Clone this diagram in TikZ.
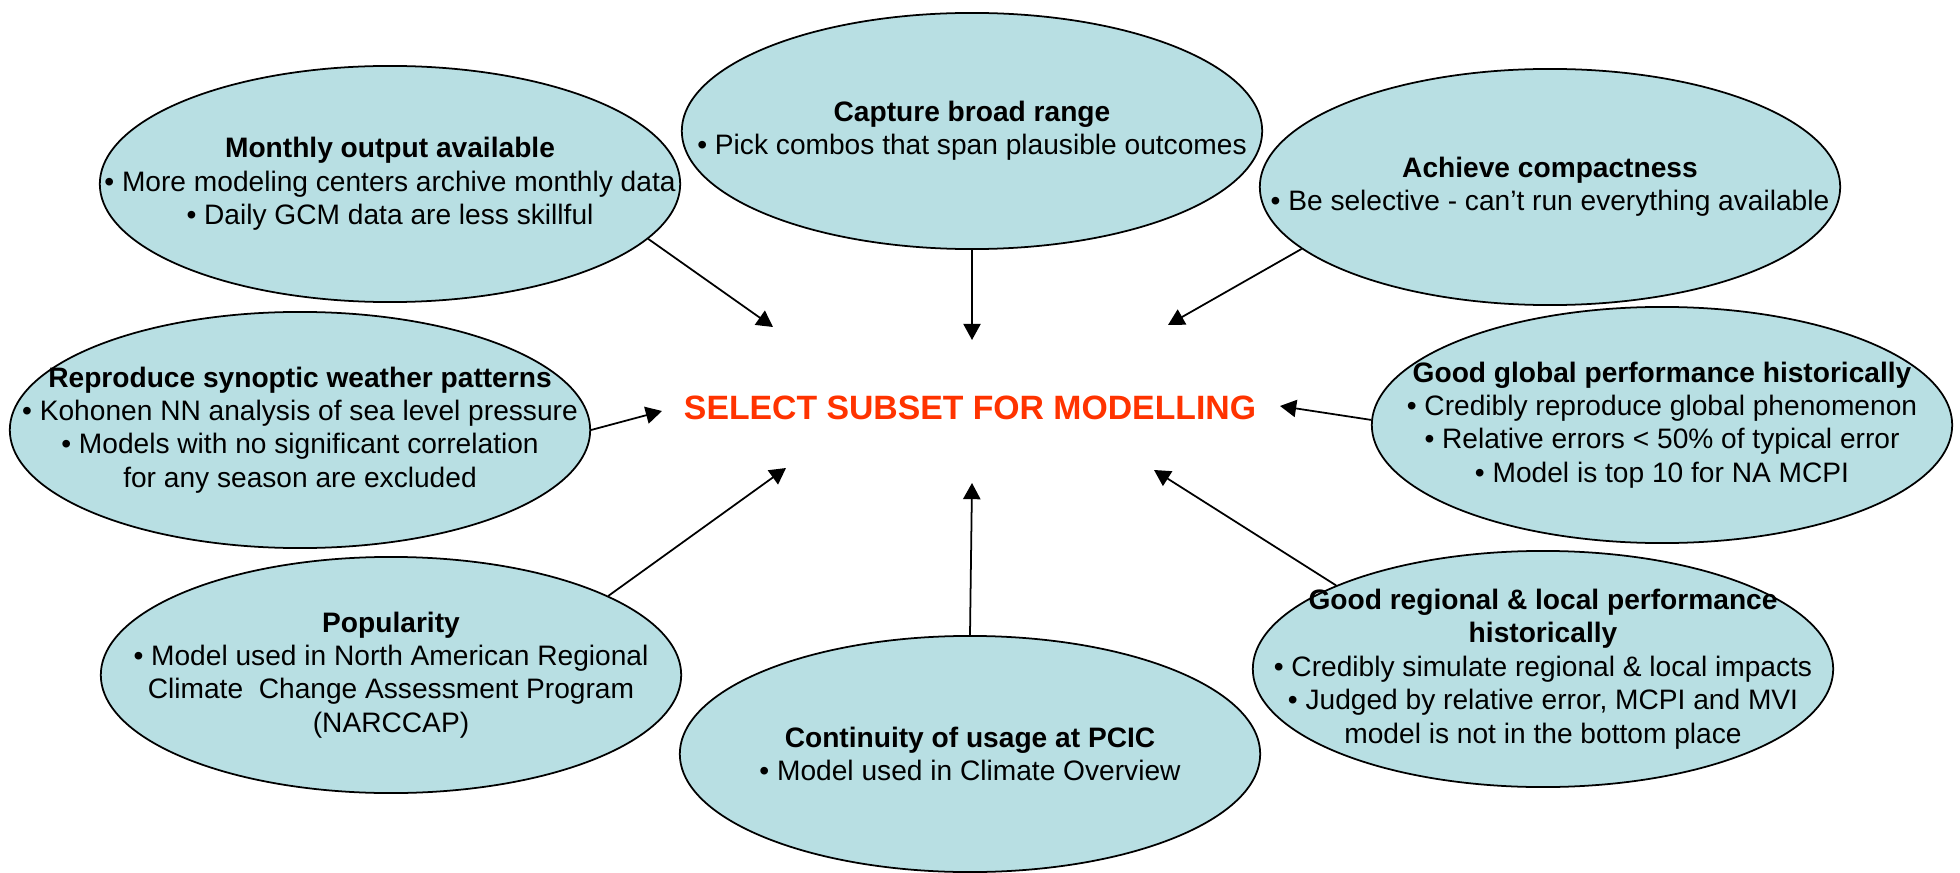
\documentclass[tikz,border=0pt]{standalone}
\usepackage{fontspec}
\setmainfont{Liberation Sans}
\usepackage{tikz}
\usetikzlibrary{arrows.meta}
\usetikzlibrary{shapes.geometric}

\definecolor{blobfill}{RGB}{184,223,227}
\definecolor{selectred}{RGB}{255,51,0}

\tikzset{
	blob/.style={ellipse, draw=black, line width=0.5pt, fill=blobfill,
		minimum width=5.8cm, minimum height=2.36cm, inner sep=0pt},
	blobtext/.style={align=center, inner sep=0pt, font=\fontsize{8}{9.5}\selectfont},
	feed/.style={draw=black, line width=0.5pt, -{Triangle[length=4.6pt,width=4.9pt]}}
}

\begin{document}
\begin{tikzpicture}[x=0.01cm, y=-0.01cm]
	
	\useasboundingbox (0,0) rectangle (1960,873);
	
	% Top row
	\node[blob] (monthly) at (390,184) {};
	\node[blobtext] (monthlytxt) at (monthly) {\textbf{Monthly output available}\\
		• More modeling centers archive monthly data\\
		• Daily GCM data are less skillful};
	
	\node[blob] (capture) at (972,131) {};
	\node[blobtext] (capturetxt) at (capture) {\textbf{Capture broad range}\\
		• Pick combos that span plausible outcomes};
	
	\node[blob] (compact) at (1550,187) {};
	\node[blobtext] (compacttxt) at (compact) {\textbf{Achieve compactness}\\
		• Be selective - can’t run everything available};
	
	% Middle row
	\node[blob] (synoptic) at (300,430) {};
	\node[blobtext] (synoptictxt) at (synoptic) {\textbf{Reproduce synoptic weather patterns}\\
		• Kohonen NN analysis of sea level pressure\\
		• Models with no significant correlation\\
		for any season are excluded};
	
	\node[blob] (globalperf) at (1662,425) {};
	\node[blobtext] (globalperftxt) at (globalperf) {\textbf{Good global performance historically}\\
		• Credibly reproduce global phenomenon\\
		• Relative errors < 50\% of typical error\\
		• Model is top 10 for NA MCPI};
	
	% Bottom row
	\node[blob] (popular) at (391,675) {};
	\node[blobtext] (populartxt) at (popular) {\textbf{Popularity}\\
		• Model used in North American Regional\\
		Climate~ Change Assessment Program\\
		(NARCCAP)};
	
	\node[blob] (continuity) at (970,754) {};
	\node[blobtext] (continuitytxt) at (continuity) {\textbf{Continuity of usage at PCIC}\\
		• Model used in Climate Overview};
	
	\node[blob] (regional) at (1543,669) {};
	\node[blobtext] (regionaltxt) at (regional) {\textbf{Good regional \& local performance}\\
		\textbf{historically}\\
		• Credibly simulate regional \& local impacts\\
		• Judged by relative error, MCPI and MVI\\
		model is not in the bottom place};
	
	% Centre
	\node[text=selectred, inner sep=0pt, font=\bfseries\fontsize{9.6}{11}\selectfont] (select) at (970,408)
		{SELECT SUBSET FOR MODELLING};
	
	% Arrow tips
	\coordinate (tipmonthly) at (773,327);
	\coordinate (tipcapture) at (972,340);
	\coordinate (tipcompact) at (1168,325);
	\coordinate (tipsynoptic) at (662,411);
	\coordinate (tipglobalperf) at (1280,406);
	\coordinate (tippopular) at (786,468);
	\coordinate (tipcontinuity) at (972,483);
	\coordinate (tipregional) at (1154,470);
	
	% Arrows
	\foreach \n/\a in {monthly/-12, capture/-90, compact/-166, synoptic/0,
		globalperf/179, popular/20, continuity/90, regional/158} {
		\draw[feed] (\n.\a) -- (tip\n);
	}
	
\end{tikzpicture}
\end{document}
